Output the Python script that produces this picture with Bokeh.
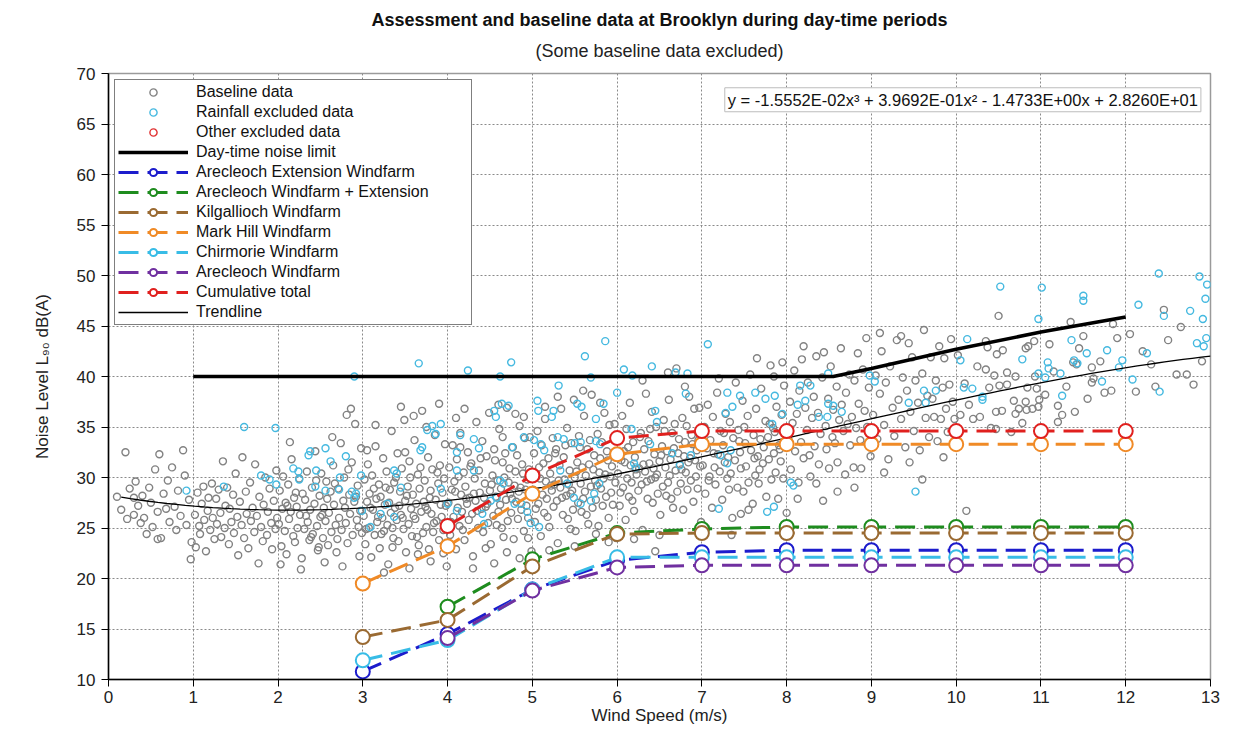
import numpy as np
from bokeh.plotting import figure
from bokeh.models import (Range1d, SingleIntervalTicker, Legend, LegendItem, Label, Title)
from bokeh.embed import file_html
from bokeh.resources import INLINE

FONT = "Liberation Sans"

# ---------------- data ----------------
title_main = "Assessment and baseline data at Brooklyn during day-time periods"
title_sub = "(Some baseline data excluded)"
x_label = "Wind Speed (m/s)"
y_label = "Noise Level L\u2089\u2080 dB(A)"
equation = "y = -1.5552E-02x\u00b3 + 3.9692E-01x\u00b2 - 1.4733E+00x + 2.8260E+01"

# trendline coefficients (cubic, highest power first) as printed on the chart
trend_coef = [-1.5552e-02, 3.9692e-01, -1.4733e+00, 2.8260e+01]
trend_start, trend_end = 0.15, 13.0

limit_x = [1, 2, 3, 4, 5, 6, 7, 8, 8.55, 9, 10, 11, 12]
limit_y = [40, 40, 40, 40, 40, 40, 40, 40, 40.0, 40.8, 42.7, 44.4, 45.9]

ext_x = [3, 4, 5, 6, 7, 8, 9, 10, 11, 12]
ext_y = [10.8, 14.5, 18.9, 21.8, 22.6, 22.8, 22.8, 22.8, 22.8, 22.8]
wfext_x = [4, 5, 6, 7, 8, 9, 10, 11, 12]
wfext_y = [17.2, 21.9, 24.5, 24.9, 25.1, 25.1, 25.1, 25.1, 25.1]
kil_x = [3, 4, 5, 6, 7, 8, 9, 10, 11, 12]
kil_y = [14.2, 15.9, 21.2, 24.4, 24.5, 24.5, 24.5, 24.5, 24.5, 24.5]
mark_x = [3, 4, 5, 6, 7, 8, 9, 10, 11, 12]
mark_y = [19.5, 23.2, 28.4, 32.3, 33.3, 33.3, 33.3, 33.3, 33.3, 33.3]
chir_x = [3, 4, 5, 6, 7, 8, 9, 10, 11, 12]
chir_y = [11.9, 13.9, 18.9, 22.1, 22.1, 22.1, 22.1, 22.1, 22.1, 22.1]
arec_x = [4, 5, 6, 7, 8, 9, 10, 11, 12]
arec_y = [14.1, 18.8, 21.1, 21.3, 21.3, 21.3, 21.3, 21.3, 21.3]
cum_x = [4, 5, 6, 7, 8, 9, 10, 11, 12]
cum_y = [25.2, 30.2, 33.9, 34.6, 34.6, 34.6, 34.6, 34.6, 34.6]

baseline_pts = [
    # 0 - 1 m/s
    (0.15,26.8),(0.2,32.5),(0.22,25.9),(0.25,28.9),(0.3,26.3),(0.32,29.6),(0.35,27.2),(0.38,25.5),
    (0.4,28.2),(0.42,26.0),(0.45,24.4),(0.48,29.0),(0.5,27.5),(0.52,25.1),(0.55,30.8),(0.58,26.6),
    (0.6,32.3),(0.62,24.0),(0.65,28.4),(0.68,26.9),(0.7,29.7),(0.72,25.6),(0.75,31.0),(0.78,27.1),
    (0.8,24.8),(0.82,28.7),(0.85,26.2),(0.88,32.7),(0.9,30.2),(0.92,25.3),(0.95,27.8),(0.97,21.9),
    (0.98,23.6),(0.3,28.0),(0.58,23.9),(0.1,28.1),
    # 1 - 2
    (1.02,26.3),(1.03,23.1),(1.05,28.5),(1.07,25.2),(1.08,24.4),(1.1,27.4),(1.12,29.1),(1.13,25.8),
    (1.15,22.7),(1.17,26.7),(1.18,28.0),(1.2,24.8),(1.22,29.4),(1.23,26.0),(1.25,23.9),(1.27,27.9),
    (1.28,25.4),(1.3,28.8),(1.32,26.5),(1.33,24.1),(1.35,31.6),(1.37,25.0),(1.38,27.2),(1.4,29.0),
    (1.42,23.4),(1.43,26.9),(1.45,25.6),(1.47,28.3),(1.48,24.5),(1.5,30.4),(1.52,26.1),(1.53,22.3),
    (1.55,27.6),(1.57,25.3),(1.58,32.0),(1.6,24.0),(1.62,28.6),(1.63,26.4),(1.65,23.0),(1.67,29.5),
    (1.68,25.7),(1.7,27.0),(1.72,24.6),(1.73,31.3),(1.75,26.2),(1.77,21.5),(1.78,28.1),(1.8,25.1),
    (1.82,23.7),(1.83,27.3),(1.85,30.0),(1.87,24.3),(1.88,26.6),(1.9,28.9),(1.92,25.5),(1.93,22.9),
    (1.95,27.7),(1.97,24.9),(1.98,30.7),(1.99,26.0),
    # 2 - 3
    (2.01,25.4),(2.02,28.7),(2.04,23.2),(2.05,26.9),(2.06,30.1),(2.08,24.7),(2.09,27.5),(2.1,22.4),
    (2.12,29.3),(2.13,25.9),(2.15,26.6),(2.16,31.8),(2.18,24.2),(2.19,28.0),(2.2,23.6),(2.22,27.1),
    (2.23,25.0),(2.25,29.9),(2.26,26.3),(2.28,22.0),(2.29,28.4),(2.31,24.9),(2.32,27.8),(2.34,30.6),
    (2.35,25.6),(2.37,23.8),(2.38,26.8),(2.4,29.0),(2.41,24.4),(2.43,27.4),(2.44,32.6),(2.46,25.2),
    (2.47,22.8),(2.49,28.2),(2.5,26.1),(2.51,30.4),(2.53,24.0),(2.54,27.0),(2.56,25.7),(2.57,29.6),
    (2.59,23.3),(2.6,26.5),(2.62,28.6),(2.63,24.6),(2.65,31.2),(2.66,27.3),(2.68,25.3),(2.69,22.6),
    (2.71,28.9),(2.72,26.0),(2.74,33.4),(2.75,24.8),(2.77,27.7),(2.78,30.0),(2.8,25.5),(2.81,36.2),
    (2.82,23.5),(2.84,28.3),(2.85,26.4),(2.87,31.5),(2.88,24.3),(2.9,27.6),(2.91,35.3),(2.93,25.8),
    (2.94,29.2),(2.96,22.2),(2.97,26.7),(2.98,32.9),(2.99,24.5),(2.03,21.4),(2.27,20.9),(2.55,21.6),
    (2.76,21.2),(2.14,33.5),(2.64,34.0),(2.86,36.8),(2.33,26.2),(2.45,29.7),(2.58,27.9),(2.7,23.9),
    (2.83,30.8),(2.92,28.1),(2.11,27.2),(2.39,24.1),(2.52,26.3),(2.67,29.4),(2.79,27.0),(2.95,25.1),
    (2.21,28.5),(2.48,23.1),
    # 3 - 4
    (3.01,26.2),(3.02,29.8),(3.03,23.4),(3.05,27.6),(3.06,31.3),(3.07,25.0),(3.08,28.4),(3.1,22.1),
    (3.11,30.2),(3.12,26.8),(3.14,24.3),(3.15,33.1),(3.16,27.9),(3.17,25.6),(3.19,29.3),(3.2,23.0),
    (3.21,28.1),(3.23,26.0),(3.24,31.9),(3.25,24.7),(3.26,27.3),(3.28,30.6),(3.29,25.3),(3.3,21.4),
    (3.32,28.8),(3.33,26.5),(3.34,34.6),(3.36,24.0),(3.37,29.5),(3.38,27.0),(3.4,25.8),(3.41,32.4),
    (3.42,23.7),(3.44,28.6),(3.45,26.3),(3.46,30.9),(3.48,24.9),(3.49,35.7),(3.5,27.7),(3.51,22.6),
    (3.53,29.1),(3.54,25.4),(3.55,31.6),(3.57,26.9),(3.58,24.2),(3.59,28.3),(3.61,33.7),(3.62,25.9),
    (3.63,27.4),(3.65,30.3),(3.66,23.3),(3.67,28.9),(3.69,26.6),(3.7,36.6),(3.71,24.5),(3.73,29.7),
    (3.74,27.1),(3.75,25.1),(3.77,32.0),(3.78,22.9),(3.79,28.0),(3.81,26.4),(3.82,30.8),(3.83,24.6),
    (3.85,34.2),(3.86,27.8),(3.87,25.7),(3.89,29.4),(3.9,23.8),(3.91,31.2),(3.93,26.1),(3.94,28.5),
    (3.95,24.8),(3.97,33.3),(3.98,27.2),(3.99,21.2),(3.04,24.9),(3.09,27.0),(3.13,28.9),(3.18,26.1),
    (3.22,24.4),(3.27,29.0),(3.31,27.5),(3.35,25.0),(3.39,30.0),(3.43,27.2),(3.47,26.0),(3.52,28.2),
    (3.56,30.0),(3.6,26.2),(3.64,24.1),(3.68,31.0),(3.72,27.6),(3.76,26.8),(3.8,28.7),(3.84,25.5),
    (3.88,30.5),(3.92,27.3),(3.96,29.9),(3.45,37.0),(3.6,36.1),(3.9,37.3),(3.25,20.6),(3.55,21.0),
    (3.8,21.7),(3.15,35.2),(3.35,23.1),(3.65,22.4),(3.75,35.0),(3.05,32.7),(3.5,32.5),(3.95,22.5),
    # 4 - 5
    (4.01,27.5),(4.02,31.0),(4.03,24.3),(4.05,28.8),(4.06,33.2),(4.07,26.1),(4.08,29.6),(4.1,22.9),
    (4.11,31.8),(4.12,27.0),(4.14,25.2),(4.15,34.4),(4.16,28.3),(4.17,26.6),(4.19,30.5),(4.2,23.8),
    (4.21,29.1),(4.23,27.4),(4.24,32.5),(4.25,25.8),(4.26,28.0),(4.28,31.4),(4.29,26.4),(4.3,22.2),
    (4.32,29.9),(4.33,27.7),(4.34,35.5),(4.36,25.0),(4.37,30.7),(4.38,28.5),(4.4,26.9),(4.41,33.6),
    (4.42,24.6),(4.44,29.4),(4.45,27.1),(4.46,32.1),(4.48,25.5),(4.49,36.4),(4.5,28.7),(4.51,23.4),
    (4.53,30.2),(4.54,26.2),(4.55,32.8),(4.57,28.1),(4.58,25.3),(4.59,29.7),(4.61,34.8),(4.62,27.3),
    (4.63,28.9),(4.65,31.5),(4.66,24.1),(4.67,30.0),(4.69,27.8),(4.7,36.9),(4.71,25.7),(4.73,30.9),
    (4.74,28.4),(4.75,26.5),(4.77,33.0),(4.78,23.9),(4.79,29.2),(4.81,27.6),(4.82,32.2),(4.83,25.9),
    (4.85,35.1),(4.86,29.0),(4.87,26.8),(4.89,30.4),(4.9,24.7),(4.91,33.9),(4.93,27.2),(4.94,29.8),
    (4.95,26.0),(4.97,34.0),(4.98,28.2),(4.99,22.7),(4.04,25.6),(4.09,28.6),(4.13,30.1),(4.18,24.8),
    (4.22,27.9),(4.27,31.1),(4.31,28.4),(4.35,26.7),(4.39,31.9),(4.43,28.0),(4.47,27.4),(4.52,29.3),
    (4.56,31.7),(4.6,26.6),(4.64,25.0),(4.68,32.4),(4.72,29.5),(4.76,27.9),(4.8,30.6),(4.84,28.6),
    (4.88,31.3),(4.92,28.8),(4.96,30.8),(4.2,36.8),(4.6,37.2),(4.8,36.3),(4.3,21.0),(4.55,21.5),
    (4.85,22.0),(4.1,35.9),(4.45,23.0),(4.7,22.6),(4.9,36.0),(4.15,33.0),(4.65,34.0),(4.95,24.0),
    # 5 - 6
    (5.01,28.8),(5.02,32.4),(5.03,25.6),(5.05,30.1),(5.06,34.6),(5.07,27.4),(5.08,31.0),(5.1,24.2),
    (5.11,33.2),(5.12,28.3),(5.14,26.5),(5.15,35.8),(5.16,29.6),(5.17,27.9),(5.19,31.9),(5.2,25.1),
    (5.21,30.4),(5.23,28.7),(5.24,33.9),(5.25,27.1),(5.26,29.3),(5.28,32.8),(5.29,27.7),(5.3,23.5),
    (5.32,31.2),(5.33,29.0),(5.34,36.8),(5.36,26.3),(5.37,32.0),(5.38,29.8),(5.4,28.2),(5.41,34.9),
    (5.42,25.9),(5.44,30.7),(5.45,28.4),(5.46,33.4),(5.48,26.8),(5.49,37.7),(5.5,30.0),(5.51,24.7),
    (5.53,31.5),(5.54,27.5),(5.55,34.1),(5.57,29.4),(5.58,26.6),(5.59,31.0),(5.61,36.1),(5.62,28.6),
    (5.63,30.2),(5.65,32.8),(5.66,25.4),(5.67,31.3),(5.69,29.1),(5.7,38.2),(5.71,27.0),(5.73,32.2),
    (5.74,29.7),(5.75,27.8),(5.77,34.3),(5.78,25.2),(5.79,30.5),(5.81,28.9),(5.82,33.5),(5.83,27.2),
    (5.85,36.4),(5.86,30.3),(5.87,28.1),(5.89,31.7),(5.9,26.0),(5.91,35.2),(5.93,28.5),(5.94,31.1),
    (5.95,27.3),(5.97,35.3),(5.98,29.5),(5.99,24.0),(5.04,26.9),(5.09,29.9),(5.13,31.4),(5.18,26.1),
    (5.22,29.2),(5.27,32.4),(5.31,29.7),(5.35,28.0),(5.39,33.2),(5.43,29.3),(5.47,28.7),(5.52,30.6),
    (5.56,33.0),(5.6,27.9),(5.64,26.3),(5.68,33.7),(5.72,30.8),(5.76,29.2),(5.8,31.9),(5.84,29.9),
    (5.88,32.6),(5.92,30.1),(5.96,32.1),(5.3,38.0),(5.6,38.6),(5.8,37.4),(5.2,22.8),(5.5,23.2),
    (5.9,23.6),(5.15,37.0),(5.45,24.9),(5.75,24.4),
    # 6 - 7
    (6.01,30.4),(6.02,34.0),(6.03,27.2),(6.05,31.7),(6.06,36.1),(6.07,29.0),(6.08,32.6),(6.1,25.8),
    (6.11,34.8),(6.12,29.9),(6.14,28.1),(6.15,37.4),(6.16,31.2),(6.17,29.5),(6.19,33.5),(6.2,26.7),
    (6.21,32.0),(6.23,30.3),(6.25,28.7),(6.26,30.9),(6.28,34.4),(6.29,29.3),(6.3,24.8),(6.32,32.8),
    (6.33,30.6),(6.34,38.3),(6.36,27.9),(6.37,33.6),(6.38,31.4),(6.4,29.8),(6.41,36.5),(6.42,27.5),
    (6.44,32.3),(6.45,30.0),(6.46,35.0),(6.48,28.4),(6.5,31.6),(6.51,26.3),(6.53,33.1),(6.54,29.1),
    (6.55,35.7),(6.57,31.0),(6.58,28.2),(6.59,32.6),(6.61,37.7),(6.62,30.2),(6.63,31.8),(6.65,34.4),
    (6.66,27.0),(6.67,32.9),(6.69,30.7),(6.71,28.6),(6.73,33.8),(6.74,31.3),(6.75,29.4),(6.77,35.9),
    (6.78,26.8),(6.79,32.1),(6.81,30.5),(6.82,35.1),(6.83,28.8),(6.85,38.0),(6.86,31.9),(6.87,29.7),
    (6.89,33.3),(6.9,27.6),(6.91,36.8),(6.93,30.1),(6.94,32.7),(6.95,28.9),(6.97,36.9),(6.98,31.1),
    (6.99,25.6),(6.04,28.5),(6.09,31.5),(6.13,33.0),(6.18,27.7),(6.22,30.8),(6.27,34.0),(6.31,31.3),
    (6.35,29.6),(6.39,34.8),(6.43,30.9),(6.47,30.3),(6.52,32.2),(6.56,34.6),(6.6,29.5),(6.64,27.9),
    (6.68,35.3),(6.72,32.4),(6.76,30.8),(6.8,33.5),(6.84,31.5),(6.88,34.2),(6.92,31.7),(6.96,33.7),
    (6.3,39.6),(6.6,40.4),(6.8,39.0),(6.2,23.9),(6.5,24.3),(6.45,22.7),(6.7,40.8),
    # 7 - 8
    (7.01,31.2),(7.03,35.0),(7.04,28.4),(7.06,32.9),(7.07,37.2),(7.09,30.1),(7.1,33.7),(7.12,27.0),
    (7.13,36.0),(7.15,31.0),(7.16,29.3),(7.18,38.4),(7.19,32.3),(7.21,30.6),(7.22,34.6),(7.24,27.8),
    (7.25,33.2),(7.27,31.5),(7.28,36.3),(7.3,29.9),(7.31,32.0),(7.33,35.5),(7.34,30.4),(7.36,26.0),
    (7.37,33.9),(7.39,31.7),(7.4,39.4),(7.42,29.0),(7.43,34.7),(7.45,32.5),(7.46,30.9),(7.48,37.6),
    (7.49,28.6),(7.51,33.4),(7.52,31.1),(7.54,36.1),(7.55,29.5),(7.57,40.2),(7.58,32.7),(7.6,27.4),
    (7.61,34.2),(7.63,30.2),(7.64,36.8),(7.66,32.1),(7.67,29.4),(7.69,33.8),(7.7,38.8),(7.72,31.4),
    (7.73,33.0),(7.75,35.6),(7.76,28.1),(7.78,34.0),(7.79,31.8),(7.81,41.1),(7.82,29.8),(7.84,34.9),
    (7.85,32.4),(7.87,30.5),(7.88,37.0),(7.9,27.9),(7.91,33.2),(7.93,31.6),(7.94,36.2),(7.96,29.9),
    (7.97,39.1),(7.99,33.0),(7.46,26.4),(8.0,26.5),(7.05,25.0),(7.35,24.3),(7.65,41.8),(7.85,40.0),
    (7.2,39.8),(7.55,26.8),(7.95,41.4),(7.08,29.7),(7.26,34.4),(7.44,33.6),(7.62,31.9),(7.8,35.3),
    (7.92,32.8),(7.14,32.4),(7.32,28.8),(7.5,35.0),(7.68,30.8),(7.86,34.5),
    # 8 - 9
    (8.02,33.8),(8.04,37.5),(8.05,30.8),(8.07,35.4),(8.09,40.6),(8.1,32.6),(8.12,36.3),(8.14,29.5),
    (8.15,38.6),(8.17,33.5),(8.18,41.7),(8.2,31.9),(8.22,36.9),(8.24,34.7),(8.25,39.4),(8.27,32.2),
    (8.28,30.1),(8.3,35.9),(8.32,38.0),(8.33,33.1),(8.35,42.0),(8.37,36.4),(8.38,31.3),(8.4,34.3),
    (8.42,39.9),(8.43,27.7),(8.44,42.4),(8.46,35.1),(8.47,32.8),(8.49,37.8),(8.5,30.9),(8.52,41.0),
    (8.54,34.0),(8.55,36.7),(8.57,33.4),(8.59,39.0),(8.6,31.5),(8.62,35.7),(8.64,42.8),(8.65,37.2),
    (8.67,34.6),(8.69,30.3),(8.7,38.4),(8.72,35.3),(8.74,40.2),(8.75,33.2),(8.77,36.0),(8.79,31.0),
    (8.8,39.6),(8.82,34.9),(8.84,42.3),(8.85,37.3),(8.87,33.7),(8.88,30.9),(8.9,40.7),(8.92,36.6),
    (8.94,43.8),(8.95,35.0),(8.97,38.9),(8.99,32.1),(8.13,27.9),(8.6,28.6),(8.35,29.4),(8.8,29.0),
    (8.2,43.0),
    # 9 - 10
    (9.02,36.2),(9.05,40.1),(9.07,33.8),(9.1,38.3),(9.12,42.5),(9.15,35.2),(9.17,39.4),(9.2,31.8),
    (9.22,41.0),(9.25,36.9),(9.27,34.1),(9.3,43.6),(9.32,37.7),(9.35,35.8),(9.37,39.9),(9.4,33.0),
    (9.42,38.6),(9.44,43.3),(9.46,36.5),(9.48,41.9),(9.5,34.6),(9.52,39.6),(9.55,37.4),(9.57,32.7),
    (9.6,40.3),(9.62,44.6),(9.64,35.9),(9.66,38.1),(9.68,34.0),(9.7,41.9),(9.72,37.8),(9.74,36.0),
    (9.76,39.6),(9.78,33.6),(9.8,43.0),(9.82,35.8),(9.84,38.9),(9.86,41.8),(9.88,36.8),(9.9,34.5),
    (9.92,39.2),(9.94,43.7),(9.96,37.5),(9.98,35.8),(9.15,30.5),(9.45,31.5),(9.85,32.0),(9.6,29.8),
    (9.35,44.0),(9.1,44.3),
    # 10 - 11
    (10.12,26.7),(10.35,43.5),(10.37,42.9),(10.5,46.0),(10.55,42.6),(10.48,42.2),(10.35,40.7),
    (10.45,40.1),(10.6,40.4),(10.7,40.0),(10.85,43.0),(10.82,42.8),(10.92,43.5),(10.93,40.0),
    (10.84,38.9),(10.95,38.8),(10.98,37.7),(10.97,37.0),(10.9,36.8),(10.83,36.7),(10.82,37.5),
    (10.74,36.8),(10.7,36.3),(10.54,36.6),(10.47,36.5),(10.39,38.9),(10.51,39.1),(10.6,39.2),
    (10.41,34.9),(10.47,34.8),(10.68,37.6),(10.05,36.2),(10.2,35.8),(10.28,36.0),(10.1,39.3),
    (10.25,41.0),(10.15,37.2),(10.02,42.1),(10.65,34.5),(10.78,35.4),
    # 11 - 12
    (11.2,37.1),(11.25,36.2),(11.2,35.5),(11.4,36.5),(11.45,42.8),(11.38,41.4),(11.42,41.2),
    (11.6,40.9),(11.6,39.4),(11.62,39.8),(11.75,38.4),(11.83,38.6),(11.1,43.2),(11.3,39.0),
    (11.5,44.0),(11.7,41.5),(11.9,43.8),(11.15,40.5),(11.55,37.8),(11.85,45.2),(11.05,38.2),
    (11.35,45.4),
    # 12 - 13
    (12.12,38.5),(12.3,41.2),(12.45,46.6),(12.6,40.2),(12.72,40.2),(12.8,39.2),(12.2,42.5),
    (12.5,43.6),(12.9,41.5),(12.05,44.2),(12.35,39.0),(12.65,44.9),
]

rainfall_pts = [
    (0.92,28.7),(1.36,29.1),(1.6,35.0),(1.97,34.9),(1.8,30.2),(1.9,29.8),(1.98,29.3),(2.18,30.9),
    (2.24,30.6),(2.25,29.8),(2.36,32.2),(2.38,32.6),(2.56,32.9),(2.45,30.7),(2.72,28.8),(2.87,28.6),
    (2.92,28.4),(2.9,28.0),(2.73,30.0),(2.98,30.2),(2.44,29.1),(2.56,28.7),(2.99,26.7),(2.9,40.0),
    (2.62,31.6),(2.8,32.1),
    (3.66,41.3),(4.24,40.6),(4.75,41.4),(4.62,40.0),(5.31,39.1),(5.62,42.0),(5.86,43.5),(5.69,39.9),
    (6.08,40.7),(6.0,38.4),(3.82,35.1),(3.92,35.3),(3.76,34.7),(3.86,34.3),(3.7,33.0),(3.68,32.7),
    (4.15,34.2),(4.31,33.8),(4.37,32.9),(4.55,36.6),(4.57,36.0),(4.64,37.3),(4.72,37.1),(5.06,37.6),
    (5.07,36.6),(5.25,36.6),(5.23,36.0),(5.53,37.3),(5.58,37.0),(5.75,35.8),(5.84,37.3),(4.76,33.0),
    (4.9,34.0),(5.02,33.7),(5.1,33.3),(5.14,32.7),(5.3,34.0),(5.37,33.8),(5.5,33.4),(5.57,33.5),
    (5.75,33.6),(5.8,33.3),(6.0,34.2),(6.17,34.8),(3.37,30.7),(3.4,30.4),(3.45,29.0),(3.29,27.4),
    (3.37,26.1),(3.21,26.4),(3.09,25.1),(4.11,32.5),(4.11,30.7),(4.31,30.7),(4.62,29.7),(4.66,29.4),
    (4.58,28.0),(3.92,28.9),(4.0,27.4),(4.11,26.7),(4.41,26.4),(4.43,25.4),(4.51,27.7),(4.79,27.4),
    (4.87,27.4),(4.94,26.6),(4.98,25.5),(5.08,25.1),(5.33,30.7),(5.41,29.4),(5.49,28.0),(5.57,27.4),
    (5.69,27.7),(5.73,28.4),(5.79,29.4),
    (7.07,43.2),(6.41,41.0),(6.69,40.4),(6.83,40.3),(6.18,40.1),(6.81,38.3),(6.45,36.6),(6.47,35.5),
    (7.3,38.4),(7.45,38.1),(7.63,38.4),(7.75,37.8),(7.86,38.1),(8.16,39.1),(8.28,39.1),(8.22,37.6),
    (8.49,37.3),(8.55,37.1),(8.65,36.5),(8.38,36.0),(8.48,36.0),(7.95,36.3),(7.83,35.3),(7.36,37.0),
    (7.28,36.4),(6.39,33.3),(6.65,32.4),(6.87,32.2),(7.22,32.2),(7.34,32.7),(7.3,31.4),(8.05,29.5),
    (8.08,29.2),(7.2,26.9),(7.77,26.6),(7.85,27.1),(6.2,31.4),(6.22,31.0),(6.74,31.2),(8.49,40.3),
    (8.98,40.1),(9.04,39.5),(8.13,37.2),
    (9.62,38.6),(9.64,37.4),(9.44,37.4),(9.76,38.6),(10.05,41.6),(10.13,43.7),(10.09,38.9),(10.19,38.8),
    (10.31,38.0),(10.31,37.7),(9.52,28.6),(10.52,48.9),(11.01,48.8),(10.97,45.7),(11.5,48.0),(11.5,47.5),
    (12.15,47.1),(12.39,50.2),(12.45,46.0),(12.76,46.5),(12.87,49.9),(12.96,49.1),(12.94,47.7),(12.91,45.7),
    (12.95,43.8),(12.84,43.3),(12.92,43.0),(12.25,42.3),(12.08,39.7),(12.4,38.5),(11.96,41.6),(11.92,40.9),
    (11.72,39.5),(11.78,42.6),(11.54,42.3),(11.36,43.6),(11.43,41.3),(11.39,41.6),(11.23,40.3),(11.25,38.1),
    (11.08,41.4),(11.09,40.8),(10.97,40.3),(11.05,39.9),(10.78,41.7),
]

# no "other excluded" points are visible in the chart; the legend swatch uses a
# point placed outside the visible range
other_x = []
other_y = []
swatch_x = [-100]
swatch_y = [-100]

# ---------------- figure ----------------
p = figure(width=1247, height=735, x_range=Range1d(0, 13), y_range=Range1d(10, 70),
           output_backend="svg", toolbar_location=None, title=None,
           min_border_left=108, min_border_right=37, min_border_top=73, min_border_bottom=56)
p.background_fill_color = "white"
p.border_fill_color = "white"
p.outline_line_color = "#9a9a9a"
p.outline_line_width = 1.5

sub = Title(text=title_sub, align="center", text_font=FONT, text_font_size="18px",
            text_font_style="normal", text_color="#222222", standoff=26)
main = Title(text=title_main, align="center", text_font=FONT, text_font_size="18px",
             text_font_style="bold", text_color="#111111", standoff=-9)
p.add_layout(sub, "above")
p.add_layout(main, "above")

for ax in (p.xaxis[0], p.yaxis[0]):
    ax.major_label_text_font = FONT
    ax.major_label_text_font_size = "17px"
    ax.major_label_text_color = "#222222"
    ax.axis_label_text_font = FONT
    ax.axis_label_text_font_size = "17px"
    ax.axis_label_text_font_style = "normal"
    ax.axis_label_text_color = "#222222"
    ax.axis_line_color = "black"
    ax.axis_line_width = 1.5
    ax.major_tick_line_color = "black"
    ax.major_tick_out = 7
    ax.major_tick_in = 0
    ax.minor_tick_line_color = None
p.xaxis.ticker = SingleIntervalTicker(interval=1, num_minor_ticks=0)
p.yaxis.ticker = SingleIntervalTicker(interval=5, num_minor_ticks=0)
p.xaxis.axis_label = x_label
p.yaxis.axis_label = y_label
p.xaxis.major_label_standoff = 4
p.xaxis.axis_label_standoff = 0
p.yaxis.major_label_standoff = 6
p.yaxis.axis_label_standoff = 22

p.grid.grid_line_color = "#8a8a8a"
p.grid.grid_line_dash = "2 2"
p.grid.grid_line_width = 1

# scatter data
bx, by = zip(*baseline_pts)
rx, ry = zip(*rainfall_pts)
r_base = p.scatter(list(bx), list(by), marker="circle", size=7, line_color="#828282",
                   line_width=1.4, fill_color=None)
r_rain = p.scatter(list(rx), list(ry), marker="circle", size=7, line_color="#45b9e0",
                   line_width=1.4, fill_color=None)
r_other = p.scatter(other_x + swatch_x, other_y + swatch_y, marker="circle", size=7,
                    line_color="#e03030", line_width=1.4, fill_color=None)

# trendline from the printed cubic
tx = np.linspace(trend_start, trend_end, 120)
ty = np.polyval(trend_coef, tx)
r_trend = p.line(tx, ty, line_color="black", line_width=1.3)

# noise limit
r_limit = p.line(limit_x, limit_y, line_color="black", line_width=3.5)

series = [
    ("Arecleoch Extension Windfarm", ext_x, ext_y, "#1c1ccc"),
    ("Arecleoch Windfarm + Extension", wfext_x, wfext_y, "#1e8c1e"),
    ("Kilgallioch Windfarm", kil_x, kil_y, "#9a6a32"),
    ("Mark Hill Windfarm", mark_x, mark_y, "#f08a26"),
    ("Chirmorie Windfarm", chir_x, chir_y, "#38bce6"),
    ("Arecleoch Windfarm", arec_x, arec_y, "#7030a0"),
    ("Cumulative total", cum_x, cum_y, "#e0201e"),
]
series_items = []
for name, sx, sy, col in series:
    rl = p.line(sx, sy, line_color=col, line_width=3, line_dash="20 9")
    rm = p.scatter(sx, sy, marker="circle", size=14, line_color=col, line_width=2,
                   fill_color="white")
    series_items.append(LegendItem(label=name, renderers=[rl, rm]))

items = [
    LegendItem(label="Baseline data", renderers=[r_base]),
    LegendItem(label="Rainfall excluded data", renderers=[r_rain]),
    LegendItem(label="Other excluded data", renderers=[r_other]),
    LegendItem(label="Day-time noise limit", renderers=[r_limit]),
] + series_items + [LegendItem(label="Trendline", renderers=[r_trend])]

legend = Legend(items=items, location="top_left")
legend.label_text_font = FONT
legend.label_text_font_size = "16px"
legend.label_text_color = "#111111"
legend.label_height = 18
legend.glyph_height = 18
legend.glyph_width = 70
legend.label_standoff = 8
legend.label_width = 272
legend.spacing = 2
legend.padding = 3
legend.margin = 6
legend.border_line_color = "black"
legend.border_line_width = 1.5
legend.background_fill_color = "white"
legend.background_fill_alpha = 1
p.add_layout(legend)

eq = Label(x=7.27, y=67.4, text=equation, text_font=FONT, text_font_size="16.5px",
           text_baseline="middle", text_color="#111111",
           border_line_color="#bdbdbd", border_line_width=1,
           background_fill_color="white", padding=3)
p.add_layout(eq)

open("out.html", "w").write(file_html(p, INLINE))
